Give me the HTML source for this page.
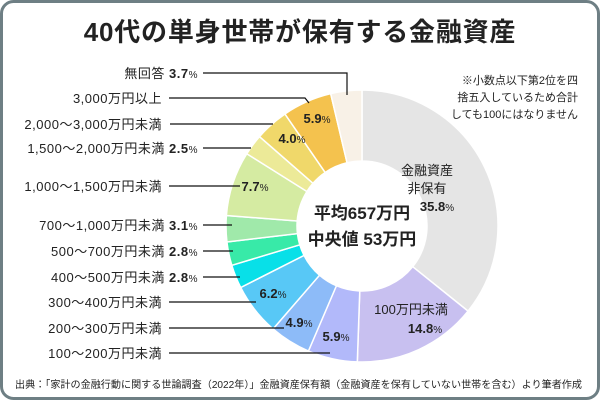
<!DOCTYPE html>
<html><head><meta charset="utf-8"><style>
html,body{margin:0;padding:0;background:#fff}
body{width:600px;height:400px;overflow:hidden;font-family:"Liberation Sans","Noto Sans CJK JP",sans-serif}
svg text{font-family:"Liberation Sans","Noto Sans CJK JP",sans-serif;fill:#222}
</style></head><body>
<svg id="s" width="600" height="400" viewBox="0 0 600 400" xmlns="http://www.w3.org/2000/svg">
<rect x="1.5" y="1.5" width="597" height="397" rx="12" fill="#fff" stroke="#6e7f84" stroke-width="3"/>
<text x="300" y="41" font-size="26" font-weight="bold" text-anchor="middle" fill="#111" letter-spacing="0.8">40代の単身世帯が保有する金融資産</text>
<g id="pie"></g>
<g font-size="13" text-anchor="end" letter-spacing="0.5">
<text x="198" y="78">無回答 <tspan font-weight="bold">3.7</tspan><tspan font-size="10">%</tspan></text>
<text x="162" y="103">3,000万円以上</text>
<text x="162" y="129">2,000～3,000万円未満</text>
<text x="198" y="153">1,500～2,000万円未満 <tspan font-weight="bold">2.5</tspan><tspan font-size="10">%</tspan></text>
<text x="162" y="191">1,000～1,500万円未満</text>
<text x="198" y="230">700～1,000万円未満 <tspan font-weight="bold">3.1</tspan><tspan font-size="10">%</tspan></text>
<text x="198" y="256">500～700万円未満 <tspan font-weight="bold">2.8</tspan><tspan font-size="10">%</tspan></text>
<text x="198" y="282">400～500万円未満 <tspan font-weight="bold">2.8</tspan><tspan font-size="10">%</tspan></text>
<text x="162" y="307">300～400万円未満</text>
<text x="162" y="333">200～300万円未満</text>
<text x="162" y="358">100～200万円未満</text>
</g>
<g stroke="#111" stroke-width="1.2" fill="none">
<polyline points="203,73 347,73 347,95"/>
<polyline points="169,98 305,98 309,103"/>
<line x1="170" y1="124" x2="273" y2="124"/>
<line x1="203" y1="148" x2="251" y2="148"/>
<line x1="169" y1="186" x2="240" y2="186"/>
<line x1="203" y1="225" x2="232" y2="225"/>
<line x1="203" y1="251" x2="233" y2="251"/>
<line x1="203" y1="277" x2="240" y2="277"/>
<line x1="169" y1="302" x2="256" y2="302"/>
<line x1="169" y1="328" x2="284" y2="328"/>
<line x1="169" y1="353" x2="330" y2="353"/>
</g>
<g font-size="13" font-weight="bold" text-anchor="middle">
<text x="317" y="123">5.9<tspan font-size="10" font-weight="normal">%</tspan></text>
<text x="292" y="143">4.0<tspan font-size="10" font-weight="normal">%</tspan></text>
<text x="255" y="191">7.7<tspan font-size="10" font-weight="normal">%</tspan></text>
<text x="273" y="298">6.2<tspan font-size="10" font-weight="normal">%</tspan></text>
<text x="299" y="327">4.9<tspan font-size="10" font-weight="normal">%</tspan></text>
<text x="336" y="341">5.9<tspan font-size="10" font-weight="normal">%</tspan></text>
<text x="425" y="333">14.8<tspan font-size="10" font-weight="normal">%</tspan></text>
<text x="437" y="211">35.8<tspan font-size="10" font-weight="normal">%</tspan></text>
</g>
<g font-size="13" text-anchor="middle">
<text x="427" y="175">金融資産</text>
<text x="427" y="193">非保有</text>
<text x="411" y="314">100万円未満</text>
</g>
<g font-size="17" font-weight="bold" text-anchor="middle" fill="#111">
<text x="362" y="219">平均657万円</text>
<text x="362" y="245">中央値 53万円</text>
</g>
<g font-size="11" text-anchor="end">
<text x="578" y="84">※小数点以下第2位を四</text>
<text x="578" y="101">捨五入しているため合計</text>
<text x="578" y="118">しても100にはなりません</text>
</g>
<text x="15" y="388" font-size="10" textLength="567" lengthAdjust="spacingAndGlyphs">出典：「家計の金融行動に関する世論調査（2022年）」金融資産保有額（金融資産を保有していない世帯を含む）より筆者作成</text>
</svg>
<script>
var d=[[35.8,"#e5e5e5"],[14.8,"#c8c0f0"],[5.9,"#b2b9fa"],[4.9,"#8dbbf8"],[6.2,"#58c8f6"],[2.8,"#08e0e8"],[2.8,"#38eaa8"],[3.1,"#a0e9aa"],[7.7,"#d5eba2"],[2.5,"#ecea98"],[4.0,"#f0d86a"],[5.9,"#f4c24e"],[3.7,"#f8f1e7"]];
var cx=362,cy=226,R=136,r=65,t=0,s=0;d.forEach(function(e){s+=e[0]});
var g=document.getElementById("pie"),h="";
function p(a,rr){return [cx+rr*Math.sin(a),cy-rr*Math.cos(a)]}
d.forEach(function(e){var a0=t/s*2*Math.PI;t+=e[0];var a1=t/s*2*Math.PI;var l=(a1-a0)>Math.PI?1:0;
var A=p(a0,R),B=p(a1,R),C=p(a1,r),D=p(a0,r);
h+='<path d="M'+A+' A'+R+','+R+' 0 '+l+' 1 '+B+' L'+C+' A'+r+','+r+' 0 '+l+' 0 '+D+' Z" fill="'+e[1]+'" stroke="#fff" stroke-width="1.5"/>';});
g.innerHTML=h;
</script>
</body></html>
